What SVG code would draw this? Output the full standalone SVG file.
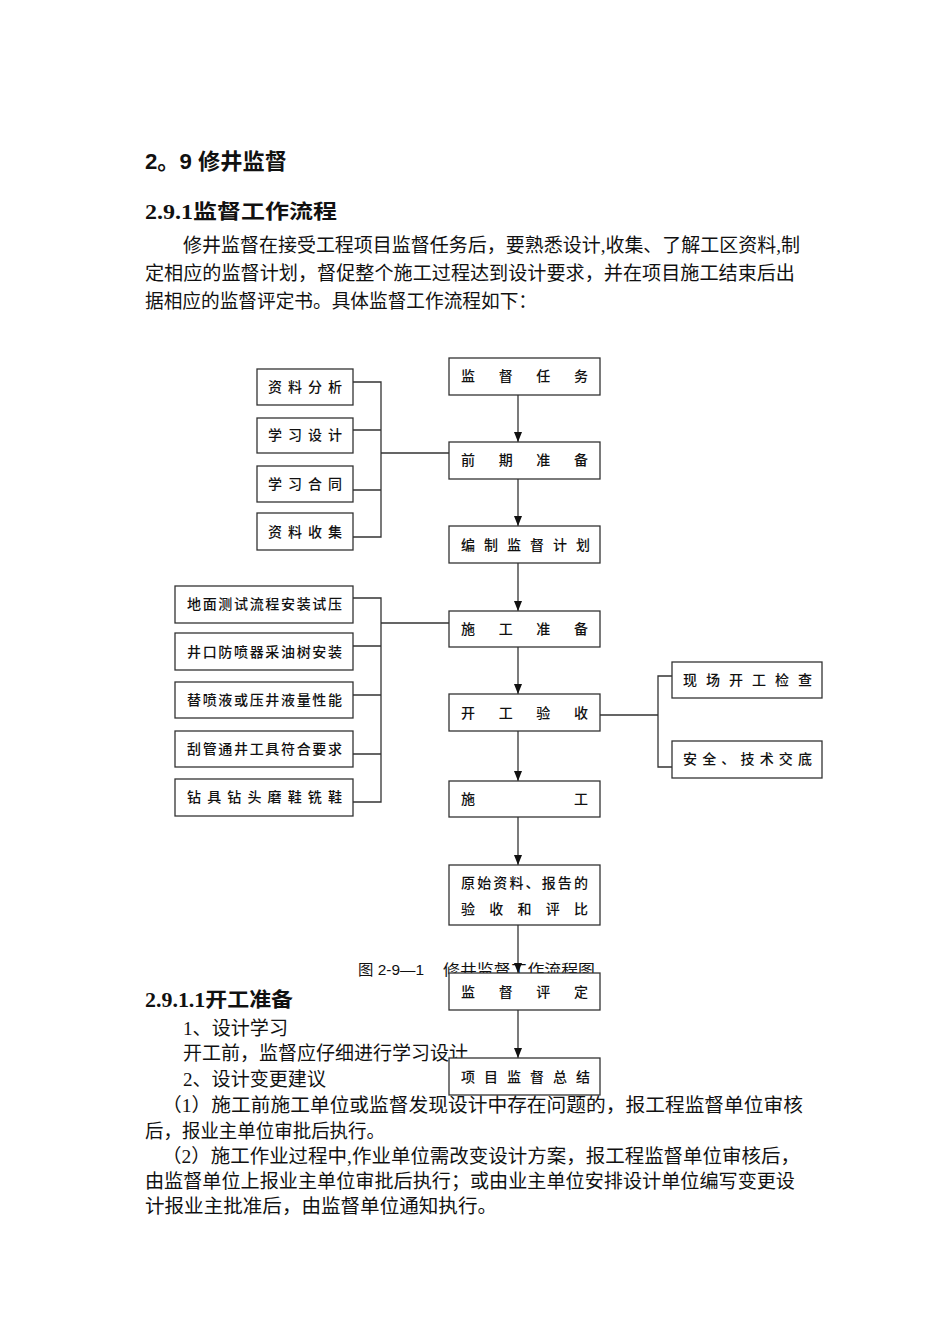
<svg xmlns="http://www.w3.org/2000/svg" width="950" height="1344" viewBox="0 0 950 1344">
<style>
.body{font-family:"Liberation Serif","Noto Sans CJK SC",serif;font-size:19px;fill:#111}
.h1{font-family:"Liberation Sans","Noto Sans CJK SC",sans-serif;font-size:22px;font-weight:bold;fill:#111}
.h2{font-family:"Liberation Serif","Noto Sans CJK SC",serif;font-size:20px;font-weight:bold;fill:#111}
.cap{font-family:"Liberation Sans","Noto Sans CJK SC",sans-serif;font-size:15px;fill:#111}
.lbl{font-family:"Noto Sans CJK SC",sans-serif;font-size:14px;font-weight:500;fill:#111}
.box{fill:#fff;stroke:#333;stroke-width:1.3}
.ln{fill:none;stroke:#333;stroke-width:1.3}
</style>
<defs>
<marker id="ah" viewBox="0 0 10 8" refX="10" refY="4" markerWidth="10" markerHeight="8" orient="auto" markerUnits="userSpaceOnUse">
<path d="M0,0 L10,4 L0,8 z" fill="#111"/>
</marker>
</defs>
<rect width="950" height="1344" fill="#fff"/>
<g id="text">
<text class="h1" x="145" y="169" textLength="142" lengthAdjust="spacingAndGlyphs">2。9 修井监督</text>
<text class="h2" x="145" y="219" textLength="192" lengthAdjust="spacingAndGlyphs">2.9.1监督工作流程</text>
<text class="body" x="183" y="252" textLength="617" lengthAdjust="spacingAndGlyphs">修井监督在接受工程项目监督任务后，要熟悉设计,收集、了解工区资料,制</text>
<text class="body" x="145" y="280" textLength="650" lengthAdjust="spacingAndGlyphs">定相应的监督计划，督促整个施工过程达到设计要求，并在项目施工结束后出</text>
<text class="body" x="145" y="308" textLength="392" lengthAdjust="spacingAndGlyphs">据相应的监督评定书。具体监督工作流程如下：</text>
<text class="cap" x="358" y="975" textLength="66" lengthAdjust="spacingAndGlyphs">图 2-9—1</text>
<text class="cap" x="443" y="975" textLength="152" lengthAdjust="spacingAndGlyphs">修井监督工作流程图</text>
<text class="h2" x="145" y="1007" textLength="148" lengthAdjust="spacingAndGlyphs">2.9.1.1开工准备</text>
<text class="body" x="183" y="1035" textLength="105" lengthAdjust="spacingAndGlyphs">1、设计学习</text>
<text class="body" x="183" y="1060" textLength="285" lengthAdjust="spacingAndGlyphs">开工前，监督应仔细进行学习设计</text>
<text class="body" x="183" y="1086" textLength="143" lengthAdjust="spacingAndGlyphs">2、设计变更建议</text>
<text class="body" x="162" y="1112" textLength="641" lengthAdjust="spacingAndGlyphs">（1）施工前施工单位或监督发现设计中存在问题的，报工程监督单位审核</text>
<text class="body" x="145" y="1138" textLength="240" lengthAdjust="spacingAndGlyphs">后，报业主单位审批后执行。</text>
<text class="body" x="162" y="1163" textLength="638" lengthAdjust="spacingAndGlyphs">（2）施工作业过程中,作业单位需改变设计方案，报工程监督单位审核后，</text>
<text class="body" x="145" y="1188" textLength="650" lengthAdjust="spacingAndGlyphs">由监督单位上报业主单位审批后执行；或由业主单位安排设计单位编写变更设</text>
<text class="body" x="145" y="1213" textLength="352" lengthAdjust="spacingAndGlyphs">计报业主批准后，由监督单位通知执行。</text>
</g>
<g id="connectors">
<path class="ln" d="M518,395 V442" marker-end="url(#ah)"/>
<path class="ln" d="M518,479 V526" marker-end="url(#ah)"/>
<path class="ln" d="M518,563 V611" marker-end="url(#ah)"/>
<path class="ln" d="M518,647 V694" marker-end="url(#ah)"/>
<path class="ln" d="M518,731 V781" marker-end="url(#ah)"/>
<path class="ln" d="M518,817 V865" marker-end="url(#ah)"/>
<path class="ln" d="M518,925 V973" marker-end="url(#ah)"/>
<path class="ln" d="M518,1010 V1058" marker-end="url(#ah)"/>
<path class="ln" d="M353,382 H381 V537 H353 M353,430 H381 M353,490 H381 M381,453 H449"/>
<path class="ln" d="M353,598 H381 V802 H353 M353,646 H381 M353,695 H381 M353,754 H381 M381,623 H449"/>
<path class="ln" d="M600,715 H658 M672,676 H658 V767 H672"/>
</g>
<g id="n1"><rect class="box" x="449" y="358" width="151" height="37"/><text class="lbl" x="461" y="381" textLength="127" lengthAdjust="spacing">监督任务</text></g>
<g id="n2"><rect class="box" x="449" y="442" width="151" height="37"/><text class="lbl" x="461" y="465" textLength="127" lengthAdjust="spacing">前期准备</text></g>
<g id="n3"><rect class="box" x="449" y="526" width="151" height="37"/><text class="lbl" x="461" y="550" textLength="129" lengthAdjust="spacing">编制监督计划</text></g>
<g id="n4"><rect class="box" x="449" y="611" width="151" height="36"/><text class="lbl" x="461" y="634" textLength="127" lengthAdjust="spacing">施工准备</text></g>
<g id="n5"><rect class="box" x="449" y="694" width="151" height="37"/><text class="lbl" x="461" y="718" textLength="127" lengthAdjust="spacing">开工验收</text></g>
<g id="n6"><rect class="box" x="449" y="781" width="151" height="36"/><text class="lbl" x="461" y="804" textLength="127" lengthAdjust="spacing">施工</text></g>
<g id="n7"><rect class="box" x="449" y="865" width="151" height="60"/><text class="lbl" x="461" y="888" textLength="127" lengthAdjust="spacing">原始资料、报告的</text><text class="lbl" x="461" y="914" textLength="127" lengthAdjust="spacing">验收和评比</text></g>
<g id="n8"><rect class="box" x="449" y="973" width="151" height="37"/><text class="lbl" x="461" y="997" textLength="127" lengthAdjust="spacing">监督评定</text></g>
<g id="n9"><rect class="box" x="449" y="1058" width="151" height="37"/><text class="lbl" x="461" y="1082" textLength="129" lengthAdjust="spacing">项目监督总结</text></g>
<g id="a1"><rect class="box" x="257" y="369" width="96" height="36"/><text class="lbl" x="268" y="392" textLength="74" lengthAdjust="spacing">资料分析</text></g>
<g id="a2"><rect class="box" x="257" y="418" width="96" height="35"/><text class="lbl" x="268" y="440" textLength="74" lengthAdjust="spacing">学习设计</text></g>
<g id="a3"><rect class="box" x="257" y="466" width="96" height="36"/><text class="lbl" x="268" y="489" textLength="74" lengthAdjust="spacing">学习合同</text></g>
<g id="a4"><rect class="box" x="257" y="513" width="96" height="37"/><text class="lbl" x="268" y="537" textLength="74" lengthAdjust="spacing">资料收集</text></g>
<g id="b1"><rect class="box" x="175" y="586" width="178" height="37"/><text class="lbl" x="187" y="609" textLength="155" lengthAdjust="spacing">地面测试流程安装试压</text></g>
<g id="b2"><rect class="box" x="175" y="633" width="178" height="37"/><text class="lbl" x="187" y="657" textLength="155" lengthAdjust="spacing">井口防喷器采油树安装</text></g>
<g id="b3"><rect class="box" x="175" y="682" width="178" height="36"/><text class="lbl" x="187" y="705" textLength="155" lengthAdjust="spacing">替喷液或压井液量性能</text></g>
<g id="b4"><rect class="box" x="175" y="731" width="178" height="36"/><text class="lbl" x="187" y="754" textLength="155" lengthAdjust="spacing">刮管通井工具符合要求</text></g>
<g id="b5"><rect class="box" x="175" y="779" width="178" height="37"/><text class="lbl" x="187" y="802" textLength="155" lengthAdjust="spacing">钻具钻头磨鞋铣鞋</text></g>
<g id="c1"><rect class="box" x="672" y="662" width="150" height="36"/><text class="lbl" x="683" y="685" textLength="129" lengthAdjust="spacing">现场开工检查</text></g>
<g id="c2"><rect class="box" x="672" y="741" width="150" height="37"/><text class="lbl" x="683" y="764" textLength="129" lengthAdjust="spacing">安全、技术交底</text></g>
</svg>
